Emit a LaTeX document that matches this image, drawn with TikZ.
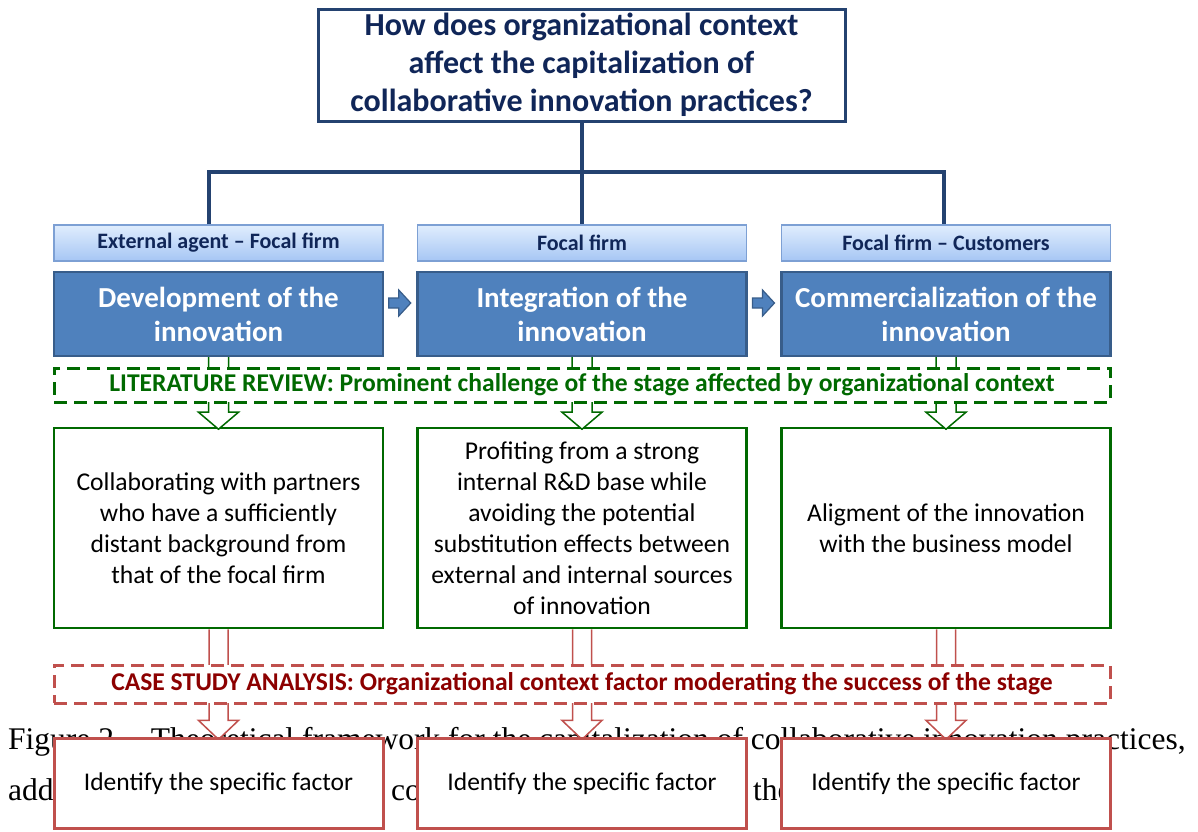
\documentclass[tikz,border=0pt]{standalone}
\usepackage{fontspec}
\setmainfont{Carlito}
\newfontfamily\capfont{Liberation Serif}
\usetikzlibrary{positioning,calc}
\definecolor{qline}{RGB}{36,66,112}
\definecolor{qtext}{RGB}{16,38,88}
\definecolor{hdtop}{RGB}{224,237,253}
\definecolor{hdbot}{RGB}{166,198,244}
\definecolor{hdline}{RGB}{125,160,212}
\definecolor{stfill}{RGB}{79,129,189}
\definecolor{stline}{RGB}{56,93,138}
\definecolor{grn}{RGB}{0,105,0}
\definecolor{redl}{RGB}{192,80,77}
\definecolor{redt}{RGB}{140,0,0}
\tikzstyle{qbox}=[draw=qline,line width=3pt,fill=white,minimum width=527,minimum height=112,align=center,text=qtext,font=\bfseries\fontsize{32}{38}\selectfont]
\tikzstyle{tree}=[draw=qline,line width=4pt]
\tikzstyle{hdr}=[draw=hdline,line width=1.4pt,top color=hdtop,bottom color=hdbot,minimum width=329,minimum height=36,text=qtext,font=\bfseries\fontsize{22}{26}\selectfont]
\tikzstyle{stg}=[draw=stline,line width=2.4pt,fill=stfill,minimum width=329,minimum height=84,align=center,text=white,font=\bfseries\fontsize{29}{34}\selectfont]
\tikzstyle{nxt}=[draw=stline,line width=1.2pt,fill=stfill]
\tikzstyle{lit}=[preaction={draw=black!15,line width=.8pt},draw=grn,line width=3pt,dash pattern=on 13pt off 7pt,fill=white,minimum width=1056,minimum height=34,text=grn,font=\bfseries\fontsize{25.6}{30}\selectfont]
\tikzstyle{cas}=[preaction={draw=black!15,line width=.8pt},draw=redl,line width=3pt,dash pattern=on 13pt off 7pt,fill=white,minimum width=1056,minimum height=38,text=redt,font=\bfseries\fontsize{25.6}{30}\selectfont]
\tikzstyle{chl}=[draw=grn,line width=2.8pt,fill=white,minimum width=329,minimum height=200,align=center,font=\fontsize{25.6}{31}\selectfont]
\tikzstyle{fac}=[draw=redl,line width=3pt,fill=white,minimum width=329,minimum height=90,font=\fontsize{25.5}{30}\selectfont]
\tikzstyle{garr}=[draw=grn,line width=1.5pt,fill=white]
\tikzstyle{rarr}=[draw=redl,line width=1.5pt,fill=white]
\tikzstyle{captxt}=[anchor=base west,inner sep=0pt,font=\capfont\fontsize{31.5}{38}\selectfont]

\begin{document}
\begin{tikzpicture}[x=1pt,y=-1pt]
\useasboundingbox (0,0) rectangle (1198,831);
% caption of the page, lying under the boxes
\node[captxt] (cap1) at (8,749) {Figure 2 -- Theoretical framework for the capitalization of collaborative innovation practices,};
\node[captxt] (cap2a) at (8,800) {add};
\node[captxt] (cap2b) at (391,800) {co};
\node[captxt] (cap2c) at (753,800) {the};
% research question and the tree
\node[qbox] (q) at (581.5,65) {How does organizational context\\affect the capitalization of\\collaborative innovation practices?};
\foreach \n/\x/\h in {1/218.5/External agent -- Focal firm, 2/582/Focal firm, 3/946/Focal firm -- Customers}
    \node[hdr] (h\n) at (\x,243) {\h};
\coordinate (j) at (582,172);
\draw[tree] (j |- q.south) -- (j) -- (h2.north);
\draw[tree] ([xshift=-9.5pt]h1.north) |- (j) -| ([xshift=-2pt]h3.north);
% stages
\foreach \n/\x/\t in {1/218.5/Development of the\\innovation, 2/582/Integration of the\\innovation, 3/946/Commercialization of the\\innovation}
    \node[stg] (s\n) at (\x,314) {\t};
\foreach \a/\b in {1/2, 2/3}
    \draw[nxt,shift={($(s\a.east)!.5!(s\b.west)$)}] (-11.5,-16) -- (-1.5,-16) -- (-1.5,-24) -- (10.5,-11) -- (-1.5,2) -- (-1.5,-6) -- (-11.5,-6) -- cycle;
% challenges and factors, one column per stage
\foreach \n/\x/\t in {1/218.5/Collaborating with partners\\who have a sufficiently\\distant background from\\that of the focal firm, 2/582/Profiting from a strong\\internal R\&D base while\\avoiding the potential\\substitution effects between\\external and internal sources\\of innovation, 3/946/Aligment of the innovation\\with the business model} {
    \node[chl] (c\n) at (\x,528) {\t};
    \draw[garr,shift={(s\n.south)}] (-10,0) -- (-10,55) -- (-20,55) -- (0,72) -- (20,55) -- (10,55) -- (10,0);
    \draw[rarr,shift={(c\n.south)}] (-9.5,0) -- (-9.5,91) -- (-20,91) -- (0,110) -- (20,91) -- (9.5,91) -- (9.5,0);
    \node[fac] (f\n) at (\x,783.5) {Identify the specific factor};
}
\node[lit] (lit) at (582,385) {LITERATURE REVIEW: Prominent challenge of the stage affected by organizational context};
\node[cas] (cas) at (582,684) {CASE STUDY ANALYSIS: Organizational context factor moderating the success of the stage};
\end{tikzpicture}
\end{document}
